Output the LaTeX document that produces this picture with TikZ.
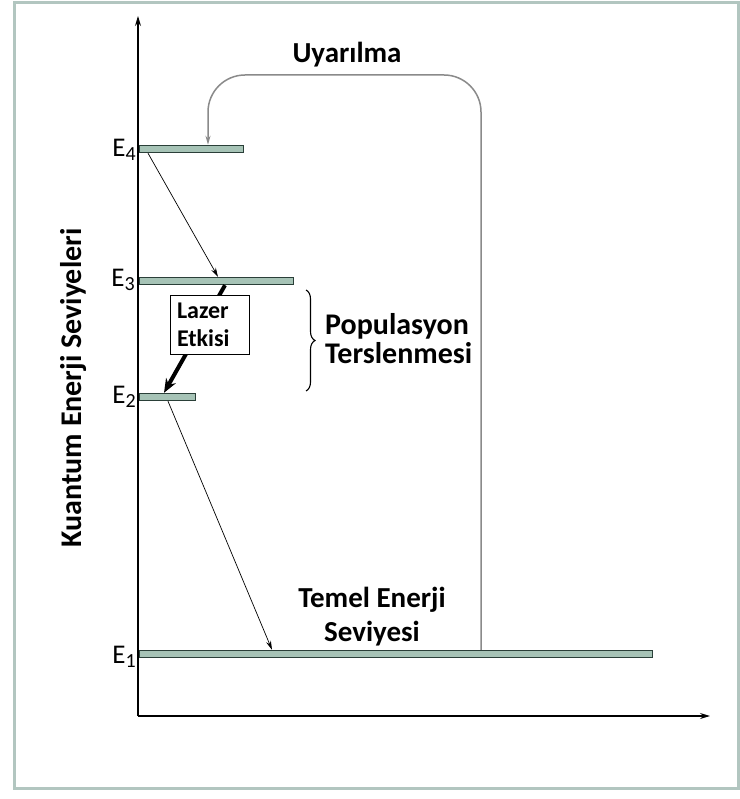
\documentclass[tikz,border=0pt]{standalone}
\usepackage{fontspec}
\setmainfont{Carlito}
\usetikzlibrary{arrows.meta,decorations.pathreplacing,calc}
\definecolor{frame}{HTML}{B2C6C0}
\definecolor{barfill}{HTML}{A6C3B6}
\definecolor{barline}{HTML}{2A3F38}
\definecolor{uyline}{HTML}{8A8A8A}
\begin{document}
\begin{tikzpicture}[x=1pt,y=-1pt,
  bar/.style={draw=barline, fill=barfill, line width=1.4pt, minimum height=7pt, inner sep=0pt, anchor=west},
  lab/.style={anchor=east, font=\fontsize{27}{29}\selectfont, inner sep=1pt},
  bold/.style={font=\fontsize{29}{30}\selectfont\bfseries, inner sep=0pt},
  thin/.style={line width=0.7pt, -{Stealth[length=9pt,width=5pt]}},
]
\useasboundingbox (0,0) rectangle (739,799);
\fill[white] (0,0) rectangle (739,799);
\draw[frame, line width=3pt] (14,3) rectangle (738,788);
% axes
\coordinate (O) at (138,716);
\coordinate (Ytip) at (138,16);
\coordinate (Xtip) at (710,716);
\draw[line width=1.2pt, -{Stealth[length=10pt,width=6pt]}] (O) -- (Ytip);
\draw[line width=1.2pt, -{Stealth[length=10pt,width=6pt]}] (O) -- (Xtip);
% bars
\node[bar, minimum width=104pt] (b4) at (139,149) {};
\node[bar, minimum width=154pt] (b3) at (139,281) {};
\node[bar, minimum width=56pt] (b2) at (139,397) {};
\node[bar, minimum width=513pt] (b1) at (139,654) {};
% labels
\node[lab] (l4) at (137,150) {E\raisebox{-0.3ex}{\fontsize{20}{20}\selectfont 4}};
\node[lab] (l3) at (136,280) {E\raisebox{-0.3ex}{\fontsize{20}{20}\selectfont 3}};
\node[lab] (l2) at (137,397) {E\raisebox{-0.3ex}{\fontsize{20}{20}\selectfont 2}};
\node[lab] (l1) at (137,657) {E\raisebox{-0.3ex}{\fontsize{20}{20}\selectfont 1}};
% Uyarilma loop
\node[bold] (uy) at (347,55) {Uyarılma};
\coordinate (up1) at (481,651);
\coordinate (up2) at (481,75);
\coordinate (up3) at (208,75);
\draw[uyline, line width=1.5pt, rounded corners=37pt, -{Stealth[length=9pt,width=5pt]}] (b1.north -| up1) -- (up2) -- (up3) -- (b4.north -| up3);
% transitions
\draw[thin] ($(b4.south west)+(9,0)$) -- ($(b3.north west)+(79,0)$);
\draw[line width=4pt, -{Stealth[length=14pt,width=11pt]}] ($(b3.south west)+(86,0)$) -- ($(b2.north west)+(25,0)$);
\node[draw, fill=white, line width=1pt, text width=65pt, inner xsep=7pt, inner ysep=2pt, minimum height=59pt, align=left,
      font=\fontsize{24}{28}\selectfont\bfseries] (lz) at (209.5,324.5) {Lazer\\Etkisi};
\draw[thin] ($(b2.south west)+(29,0)$) -- ($(b1.north west)+(133,0)$);
% brace
\coordinate (br1) at (306,290);
\coordinate (br2) at (306,391);
\draw[line width=1.1pt, decorate, decoration={brace, amplitude=9pt}] (br1) -- (br2);
\node[bold, anchor=west, align=left, font=\fontsize{30}{29}\selectfont\bfseries] (pop) at (325,339) {Populasyon\\Terslenmesi};
% ground
\node[bold, align=center, font=\fontsize{29}{34}\selectfont\bfseries] (tem) at (372,617) {Temel Enerji\\Seviyesi};
% vertical axis label
\node[bold, rotate=90, font=\fontsize{30}{32}\selectfont\bfseries] (ky) at (74,388) {Kuantum Enerji Seviyeleri};
\end{tikzpicture}
\end{document}
